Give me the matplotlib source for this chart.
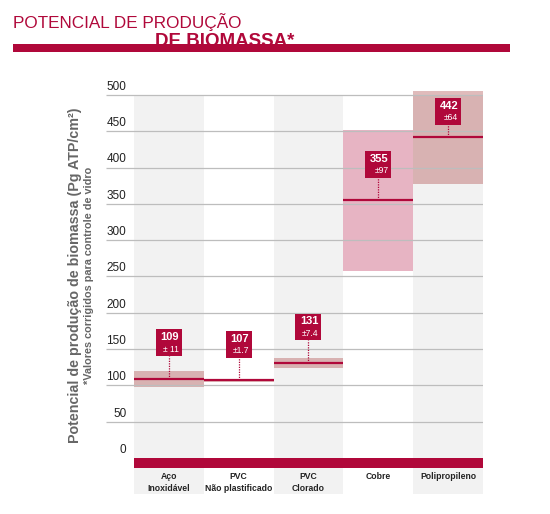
import matplotlib
matplotlib.use("Agg")
from matplotlib import pyplot as plt
from matplotlib.patches import Rectangle

plt.rcParams["font.family"] = ["Liberation Sans", "DejaVu Sans"]

# data
categories = ["Aço\nInoxidável", "PVC\nNão plastificado", "PVC\nClorado", "Cobre", "Polipropileno"]
means = [109, 107, 131, 355, 442]
errors = [11, 1.7, 7.4, 97, 64]
error_labels = ["± 11", "±1.7", "±7.4", "±97", "±64"]
yticks = [0, 50, 100, 150, 200, 250, 300, 350, 400, 450, 500]

RED = "#b0083a"
GRAY_BG = "#f2f2f2"
shaded = [True, False, True, False, True]
band_colors = ["#a83c3c", "#a83c3c", "#a83c3c", RED, "#a83c3c"]
band_alpha = [0.35, 0.35, 0.35, 0.3, 0.35]
box_gap = [31, 31, 31, 31, 17]  # room between mean line and label box

fig = plt.figure(figsize=(5.5, 5.14), dpi=100)
ax = fig.add_axes([106 / 550, 1 - 494.3 / 514, 377 / 550, (494.3 - 87.7) / 514])
ax.set_xlim(-0.9, 4.5)
ax.set_ylim(-50, 510)
ax.axis("off")

# column backgrounds
for i, on in enumerate(shaded):
    if on:
        ax.add_patch(Rectangle((i - 0.5, -50), 1, 550, color=GRAY_BG, lw=0, zorder=0))

# gridlines + tick labels
for v in yticks:
    if v > 0:
        ax.hlines(v, -0.9, 4.5, color="#bdbdbd", lw=0.9, zorder=3)
    ax.text(-0.61, v + 3, str(v), ha="right", va="bottom", fontsize=8.5, color="#222222")

# bands, mean lines, label boxes
bw, bh = 0.372, 37
for i, (m, e) in enumerate(zip(means, errors)):
    ax.add_patch(Rectangle((i - 0.5, m - e), 1, 2 * e, color=band_colors[i],
                           alpha=band_alpha[i], lw=0, zorder=2))
    ax.hlines(m, i - 0.5, i + 0.5, color=RED, lw=1.6, zorder=4)
    b0 = m + box_gap[i]
    ax.vlines(i, m, b0, color=RED, lw=0.9, linestyles=(0, (1, 1)), zorder=4)
    ax.add_patch(Rectangle((i - bw / 2, b0), bw, bh, color=RED, lw=0, zorder=5))
    ax.text(i + bw / 2 - 0.04, b0 + bh - 11, str(m), ha="right", va="center",
            fontsize=8, fontweight="bold", color="white", zorder=6)
    ax.text(i + bw / 2 - 0.04, b0 + 10, error_labels[i], ha="right", va="center",
            fontsize=6.2, color="white", zorder=6)

# red base bar and category names
ax.add_patch(Rectangle((-0.5, -14), 5, 14, color=RED, lw=0, zorder=5))
for i, c in enumerate(categories):
    ax.text(i, -19, c, ha="center", va="top", fontsize=6.2, fontweight="bold",
            color="#222222", linespacing=1.45)

# axis titles
fig.text(75 / 550, 1 - 275 / 514, "Potencial de produção de biomassa (Pg ATP/cm²)",
         rotation=90, ha="center", va="center", fontsize=10.3, fontweight="bold", color="#666666")
fig.text(89 / 550, 1 - 275 / 514, "*Valores corrigidos para controle de vidro",
         rotation=90, ha="center", va="center", fontsize=7.8, fontweight="bold", color="#666666")

# header
fig.text(13 / 550, 1 - 28 / 514, "POTENCIAL DE PRODUÇÃO", ha="left", va="baseline",
         fontsize=12.3, color=RED)
fig.text(155 / 550, 1 - 46 / 514, "DE BIOMASSA*", ha="left", va="baseline",
         fontsize=13.5, fontweight="bold", color=RED)
fig.add_artist(Rectangle((12.7 / 550, 1 - 52.3 / 514), (510 - 12.7) / 550, 8 / 514,
                         color=RED, lw=0, transform=fig.transFigure, zorder=10))

fig.savefig("out.png", dpi=100)
